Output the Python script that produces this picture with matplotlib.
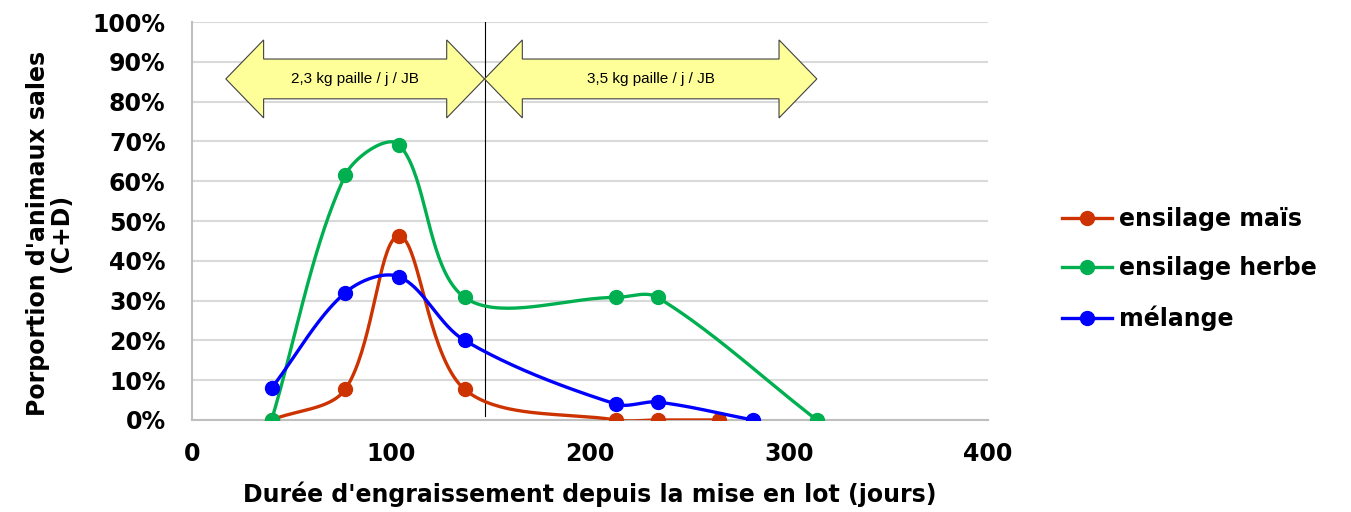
import numpy as np
import matplotlib
matplotlib.use('Agg')
import matplotlib.pyplot as plt
from matplotlib.patches import Polygon
from matplotlib.ticker import FuncFormatter

# Data
jours_mais = [40, 77, 104, 137, 213, 234, 265]
mais = [0, 7.7, 46.2, 7.7, 0, 0, 0]
jours_herbe = [40, 77, 104, 137, 213, 234, 314]
herbe = [0, 61.5, 69.2, 30.8, 30.8, 30.8, 0]
jours_melange = [40, 77, 104, 137, 213, 234, 282]
melange = [8, 32, 36, 20, 4, 4.5, 0]

labels = ['ensilage maïs', 'ensilage herbe', 'mélange']
colors = ['#CC3300', '#00B050', '#0000FF']

# periods with straw amount
limite = 147
periodes = [(17, limite, '2,3 kg paille / j / JB'), (limite, 314, '3,5 kg paille / j / JB')]

FS = 17


def smooth(xs, ys, sx=2.0, sy=3.98, n=40, tension=1 / 3.):
    # Excel-like smoothed line (bezier through points, arms weighted by distance)
    P = np.column_stack([np.array(xs, float) * sx, np.array(ys, float) * sy])
    m = len(P)
    cin = [P[0].copy() for _ in range(m)]
    cout = [P[0].copy() for _ in range(m)]
    for i in range(m):
        p0 = P[i - 1] if i > 0 else P[i]
        p2 = P[i + 1] if i < m - 1 else P[i]
        d01 = np.hypot(*(P[i] - p0))
        d12 = np.hypot(*(p2 - P[i]))
        tot = d01 + d12
        if tot == 0:
            cin[i] = P[i]
            cout[i] = P[i]
            continue
        tan = p2 - p0
        cin[i] = P[i] - tension * d01 / tot * tan
        cout[i] = P[i] + tension * d12 / tot * tan
    out = [P[0]]
    t = np.linspace(0, 1, n)[1:, None]
    for i in range(m - 1):
        p1, c1, c2, p2 = P[i], cout[i], cin[i + 1], P[i + 1]
        seg = (1 - t) ** 3 * p1 + 3 * (1 - t) ** 2 * t * c1 + 3 * (1 - t) * t ** 2 * c2 + t ** 3 * p2
        out.extend(seg)
    out = np.array(out)
    return out[:, 0] / sx, out[:, 1] / sy


def double_arrow(ax, x0, x1, txt):
    yc, hh, bh, hl = 85.7, 9.8, 5.0, 19
    pts = [(x0, yc), (x0 + hl, yc + hh), (x0 + hl, yc + bh), (x1 - hl, yc + bh),
           (x1 - hl, yc + hh), (x1, yc), (x1 - hl, yc - hh), (x1 - hl, yc - bh),
           (x0 + hl, yc - bh), (x0 + hl, yc - hh)]
    ax.add_patch(Polygon(pts, closed=True, facecolor='#FFFF99', edgecolor='#404040',
                         linewidth=0.8, zorder=4))
    ax.text((x0 + x1) / 2, yc, txt, ha='center', va='center', fontsize=11,
            family='Liberation Sans', zorder=5)


fig = plt.figure(figsize=(13.51, 5.12), dpi=100)
ax = fig.add_axes([0.1421, 0.1797, 0.5892, 0.7773])

series = [(jours_mais, mais), (jours_herbe, herbe), (jours_melange, melange)]
handles = []
for (xs, ys), lab, col in zip(series, labels, colors):
    sx, sy = smooth(xs, ys)
    ax.plot(sx, sy, color=col, linewidth=2.4, zorder=3, solid_capstyle='round')
    ax.plot(xs, ys, 'o', color=col, markersize=10, zorder=3)
    h, = ax.plot([], [], '-o', color=col, linewidth=2.4, markersize=10, label=lab)
    handles.append(h)

ax.axvline(limite, ymin=0.01, ymax=1, color='black', linewidth=0.8, zorder=2)
for x0, x1, txt in periodes:
    double_arrow(ax, x0, x1, txt)

ax.set_xlim(0, 400)
ax.set_ylim(0, 100)
ax.set_xticks([0, 100, 200, 300, 400])
ax.set_yticks(np.arange(0, 101, 10))
ax.yaxis.set_major_formatter(FuncFormatter(lambda v, p: '%d%%' % v))
ax.grid(axis='y', color='#D9D9D9', linewidth=1.5, zorder=0)
ax.set_axisbelow(True)
for s in ['top', 'right']:
    ax.spines[s].set_visible(False)
for s in ['left', 'bottom']:
    ax.spines[s].set_color('#BFBFBF')
    ax.spines[s].set_linewidth(1.5)
ax.tick_params(axis='both', length=0, labelsize=FS)
ax.tick_params(axis='y', pad=19)
ax.tick_params(axis='x', pad=16)
for lbl in ax.get_xticklabels() + ax.get_yticklabels():
    lbl.set_fontweight('bold')

ax.set_xlabel("Durée d'engraissement depuis la mise en lot (jours)", fontsize=FS,
              fontweight='bold')
ax.xaxis.set_label_coords(0.5, -0.155)
ax.set_ylabel("Porportion d'animaux sales\n(C+D)", fontsize=FS, fontweight='bold',
              linespacing=0.95)
ax.yaxis.set_label_coords(-0.150, 0.47)

fig.legend(handles=handles, loc='center left', bbox_to_anchor=(0.777, 0.475),
           frameon=False, prop={'size': FS, 'weight': 'bold'}, handlelength=2.15,
           handletextpad=0.3, labelspacing=1.07, borderpad=0)

fig.savefig('out.png', dpi=100)
